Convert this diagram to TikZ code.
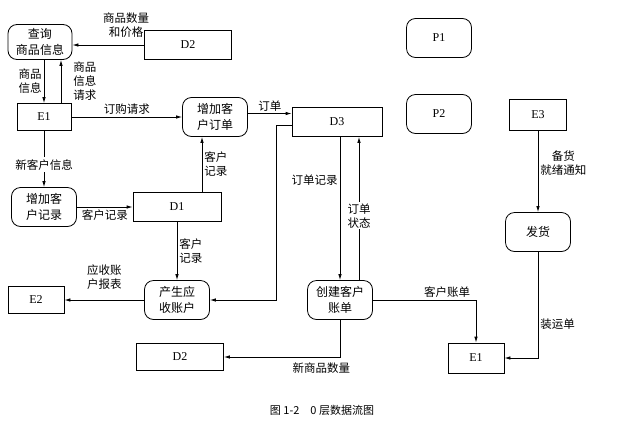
\documentclass[tikz,border=0pt]{standalone}
\usepackage{fontspec}
\setmainfont{Liberation Serif}
\newfontfamily\cjk{Noto Sans CJK SC}
\usetikzlibrary{arrows.meta}

\tikzset{
  proc/.style={draw, rounded corners=9pt, minimum width=65pt, minimum height=39pt,
    align=center, inner sep=1pt, font=\cjk\fontsize{12}{16}\selectfont},
  store/.style={draw, minimum width=88pt, minimum height=29pt, font=\fontsize{12}{14}\selectfont},
  ext/.style={draw, minimum width=55pt, minimum height=28pt, font=\fontsize{12}{14}\selectfont},
  flow/.style={-{Latex[length=6pt,width=3.5pt]}},
  lbl/.style={font=\cjk\fontsize{11.5}{14}\selectfont, align=center, inner sep=2pt},
}

\begin{document}
\begin{tikzpicture}[x=1pt,y=-1pt,line width=0.8pt]
        \useasboundingbox (0,0) rectangle (628,434) ;
        % processes, stores and externals
        \node[proc,minimum width=64pt,minimum height=35pt] (qry) at (40,42) {查询\\商品信息} ;
        \node[store,minimum width=87pt] (d2a) at (188,45) {D2} ;
        \node[ext,minimum width=54pt,minimum height=27pt] (e1a) at (44,117) {E1} ;
        \node[proc] (ord) at (215,117) {增加客\\户订单} ;
        \node[store,minimum width=90pt] (d3) at (337,122) {D3} ;
        \node[proc,font=\fontsize{12}{14}\selectfont] (p1) at (439,38) {P1} ;
        \node[proc,font=\fontsize{12}{14}\selectfont] (p2) at (439,114) {P2} ;
        \node[ext,minimum width=57pt,minimum height=31pt] (e3) at (538,115) {E3} ;
        \node[proc] (rec) at (44,207) {增加客\\户记录} ;
        \node[store] (d1) at (177,207) {D1} ;
        \node[proc] (shp) at (538,232) {发货} ;
        \node[ext,minimum width=56pt,minimum height=27pt] (e2) at (36,300) {E2} ;
        \node[proc] (acc) at (177,300) {产生应\\收账户} ;
        \node[proc] (bill) at (340,300) {创建客户\\账单} ;
        \node[store,minimum width=87pt,minimum height=27pt] (d2b) at (180,357) {D2} ;
        \node[ext,minimum width=56pt,minimum height=30pt] (e1b) at (476,358) {E1} ;
        % flows
        \draw[flow] (d2a) -- (d2a -| qry.east)
          node[lbl,pos=0.25,above,yshift=5pt]{商品数量\\和价格} ;
        \draw[flow] ([xshift=4pt]qry.south) -- ([xshift=4pt]qry.south |- e1a.north)
          node[lbl,midway,left]{商品\\信息} ;
        \draw[flow] ([xshift=21pt]qry.south |- e1a.north) -- ([xshift=21pt]qry.south)
          node[lbl,midway,right,xshift=10pt]{商品\\信息\\请求} ;
        \draw[flow] (e1a) -- (ord) node[lbl,midway,above]{订购请求} ;
        \draw[flow] (e1a) -- (rec) node[lbl,pos=0.6,fill=white]{新客户信息} ;
        \draw[flow] (rec) -- (d1) node[lbl,midway,below]{客户记录} ;
        \draw[flow] ([xshift=25pt]d1.north) -- ([xshift=25pt]d1.north |- ord.south)
          node[lbl,midway,right]{客户\\记录} ;
        \draw[flow] ([yshift=3.5pt]ord.east) -- ([yshift=3.5pt]ord.east -| d3.west)
          node[lbl,midway,above]{订单} ;
        \draw[flow] ([yshift=-3pt]d3.west) -- ++(-15,0) |- (acc.east) ;
        \draw[flow] (d1) -- (acc) node[lbl,midway,right]{客户\\记录} ;
        \draw[flow] (acc) -- (e2) node[lbl,midway,above,yshift=8pt]{应收账\\户报表} ;
        \draw[flow] ([xshift=3pt]d3.south) -- ([xshift=3pt]d3.south |- bill.north)
          node[lbl,pos=0.3,left]{订单记录} ;
        \draw[flow] ([xshift=19pt]bill.north) -- ([xshift=19pt]bill.north |- d3.south)
          node[lbl,pos=0.45,fill=white,inner sep=1pt]{订单\\状态} ;
        \draw[flow] (bill.east) -| (e1b.north) node[lbl,pos=0.36,above]{客户账单} ;
        \draw[flow] (bill.south) |- (d2b.east)
          node[lbl,pos=0.58,below,yshift=-3pt]{新商品数量} ;
        \draw[flow] (e3) -- (shp) node[lbl,pos=0.4,right]{备货\\就绪通知} ;
        \draw[flow] (shp.south) |- (e1b.east) node[lbl,pos=0.34,right]{装运单} ;
        % caption
        \node[font=\cjk\fontsize{11}{13}\selectfont] (cap) at (322,410) {图 1-2\quad 0 层数据流图} ;
\end{tikzpicture}
\end{document}
